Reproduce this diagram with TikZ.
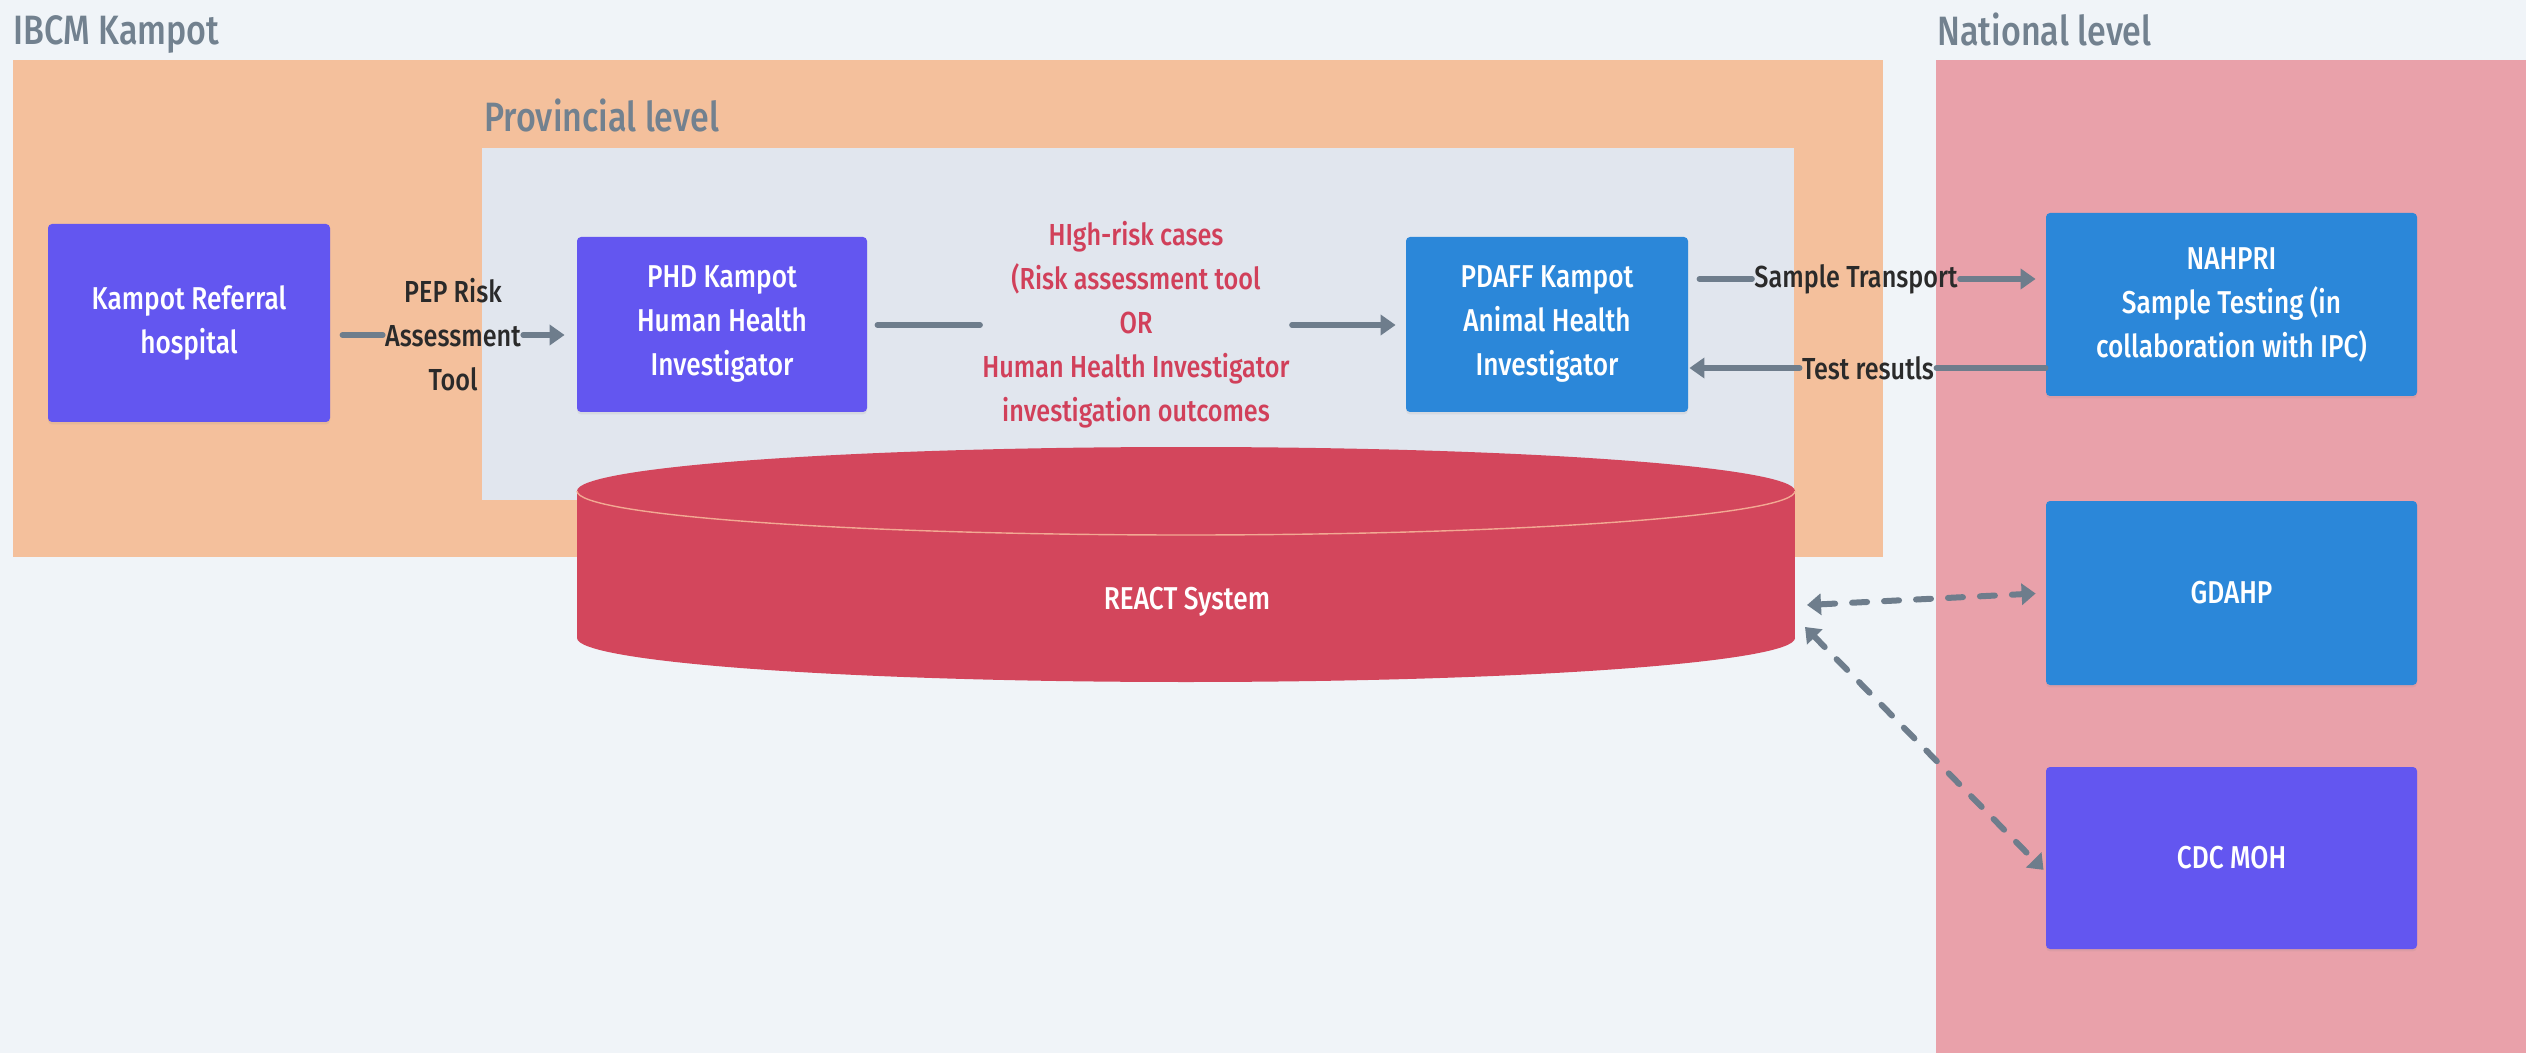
\documentclass[tikz,border=0pt]{standalone}
\usepackage{fontspec}
\setmainfont{Fira Sans}[FakeStretch=0.83, BoldFont={Fira Sans Medium}]
\usetikzlibrary{arrows.meta,shadows}
\definecolor{bgc}{HTML}{F0F4F8}
\definecolor{orangebg}{HTML}{F4C09C}
\definecolor{grayin}{HTML}{E1E6EE}
\definecolor{pinkbg}{HTML}{E9A1AA}
\definecolor{purp}{HTML}{6356F0}
\definecolor{blu}{HTML}{2B87D9}
\definecolor{cyl}{HTML}{D3465C}
\definecolor{seamc}{HTML}{F2A993}
\definecolor{redtxt}{HTML}{D1405A}
\definecolor{arrowc}{HTML}{6E7D8C}
\definecolor{titlec}{HTML}{72818F}
\definecolor{darktxt}{HTML}{2A2A2A}
\newcommand\myboxfont{\bfseries\fontsize{15.8pt}{22pt}\selectfont}
\newcommand\mylblfont{\bfseries\fontsize{15.2pt}{22pt}\selectfont}
\newcommand\mytitlefont{\bfseries\fontsize{20.5pt}{25pt}\selectfont}
\begin{document}
\begin{tikzpicture}[x=0.5pt,y=-0.5pt,
  box/.style={rectangle, rounded corners=2pt, text=white, font=\myboxfont, align=center, inner sep=0pt,
    drop shadow={shadow xshift=0pt, shadow yshift=-1.2pt, opacity=0.12}},
  lbl/.style={font=\mylblfont, align=center, inner sep=1pt, text=darktxt},
  ttl/.style={font=\mytitlefont, text=titlec, anchor=base west, inner sep=0pt},
  conn/.style={draw=arrowc, line width=2.8pt, line cap=round},
  tip/.style={-{Triangle[length=7.5pt,width=10pt]}},
  dconn/.style={draw=arrowc, line width=3pt, line cap=round, dash pattern=on 7.5pt off 8.5pt,
    {Triangle[length=7pt,width=10.5pt]}-{Triangle[length=7pt,width=10.5pt]}}]
\fill[bgc] (0,0) rectangle (2526,1053);
\useasboundingbox (0,0) rectangle (2526,1053);
% regions
\fill[orangebg] (13,60) rectangle (1883,557);
\fill[grayin] (482,148) rectangle (1794,500);
\fill[pinkbg] (1936,60) rectangle (2526,1053);
\node[ttl] (tIBCM) at (13,45) {IBCM Kampot};
\node[ttl] (tProv) at (484,132) {Provincial level};
\node[ttl] (tNat) at (1937,46) {National level};
% cylinder
\fill[cyl] (577,491) rectangle (1795,638);
\fill[cyl] (1186,638) ellipse [x radius=609, y radius=44];
\fill[cyl] (1186,491) ellipse [x radius=609, y radius=44];
\begin{scope}
\clip (570,491) rectangle (1800,545);
\draw[seamc, line width=0.7pt] (1186,491) ellipse [x radius=609, y radius=44];
\end{scope}
\node[text=white, font=\myboxfont] (react) at (1187,602) {REACT System};
% boxes
\node[box, fill=purp, minimum width=141pt, minimum height=99pt] (hosp) at (189,323) {Kampot Referral\\hospital};
\node[box, fill=purp, minimum width=145pt, minimum height=87.5pt] (phd) at (722,324.5) {PHD Kampot\\Human Health\\Investigator};
\node[box, fill=blu, minimum width=141pt, minimum height=87.5pt] (pdaff) at (1547,324.5) {PDAFF Kampot\\Animal Health\\Investigator};
\node[box, fill=blu, minimum width=185.5pt, minimum height=91.5pt] (nahpri) at (2231.5,304.5) {NAHPRI\\Sample Testing (in\\collaboration with IPC)};
\node[box, fill=blu, minimum width=185.5pt, minimum height=92pt] (gdahp) at (2231.5,593) {GDAHP};
\node[box, fill=purp, minimum width=185.5pt, minimum height=91pt] (cdc) at (2231.5,858) {CDC MOH};
% labels
\node[lbl] (pep) at (453,335) {PEP Risk\\Assessment\\Tool};
\node[lbl, text=redtxt] (risk) at (1136,325) {HIgh-risk cases\\(Risk assessment tool\\OR\\Human Health Investigator\\investigation outcomes};
\node[lbl] (st) at (1856,279) {Sample Transport};
\node[lbl] (tr) at (1868,368) {Test resutls};
% connectors
\draw[conn, shorten <=6pt] (hosp.east |- pep.west) -- (pep.west);
\draw[conn, tip, shorten >=6pt] (pep.east) -- (phd.west |- pep.east);
\draw[conn, shorten <=5pt] (phd.east |- risk.west) -- (risk.west);
\draw[conn, tip, shorten >=5pt] (risk.east) -- (pdaff.west |- risk.east);
\draw[conn, shorten <=5.5pt] (pdaff.east |- st.west) -- (st.west);
\draw[conn, tip, shorten >=5pt] (st.east) -- (nahpri.west |- st.east);
\draw[conn] (nahpri.west |- tr.east) -- (tr.east);
\draw[conn, tip, shorten >=0.5pt] (tr.west) -- (pdaff.east |- tr.west);
\coordinate (reactA) at (1807,605);
\coordinate (reactB) at (1805,627);
\draw[dconn, shorten >=5pt] (reactA) -- (gdahp.west);
\draw[dconn, shorten >=1.5pt] (reactB) -- ([yshift=-7pt]cdc.west);
\end{tikzpicture}
\end{document}
